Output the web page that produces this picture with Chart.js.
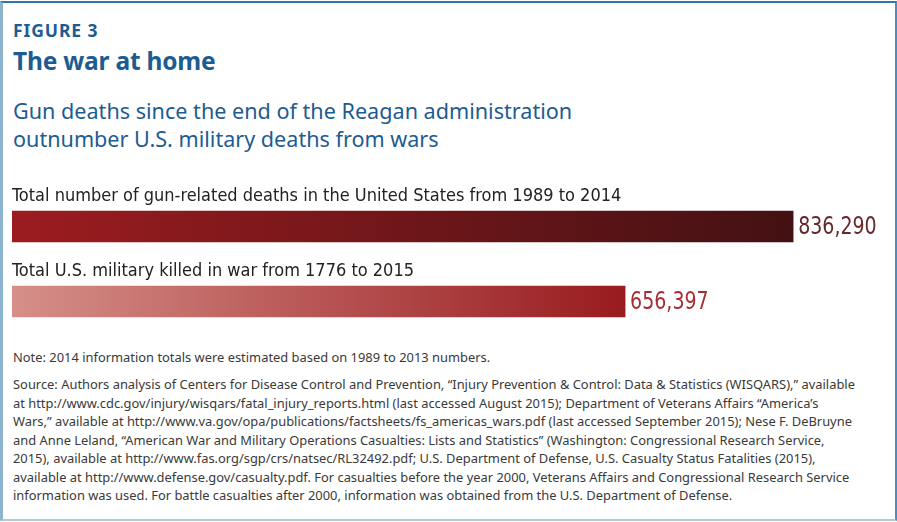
<!DOCTYPE html>
<html>
<head>
<meta charset="utf-8">
<script src="https://cdn.jsdelivr.net/npm/chart.js@4/dist/chart.umd.min.js"></script>
<style>
  html, body { margin: 0; padding: 0; background: #fff; }
  #frame {
    position: absolute; left: 0; top: 1px; width: 892px; height: 516px;
    border-left: 3px solid #8db4cf; border-top: 2px solid #3474aa;
    border-right: 2px solid #4b8dc0; border-bottom: 2px solid #afc9dc;
    font-family: "Noto Sans", "Open Sans", sans-serif;
  }
  .fig { position: absolute; left: 10px; top: 15px; font-size: 17.5px; font-weight: bold; color: #1d5c91; letter-spacing: 0.9px; }
  .title { position: absolute; left: 10px; top: 41px; font-size: 24.5px; font-weight: bold; color: #1d5c91; letter-spacing: -0.2px; }
  .sub { position: absolute; left: 10px; top: 94px; font-size: 21.6px; line-height: 28px; color: #1d5c91; }
  .note { position: absolute; left: 10px; top: 345px; font-size: 12.9px; color: #3a3a3a; width: 880px; }
  .src { position: absolute; left: 10px; top: 372px; font-size: 12.9px; line-height: 18.5px; color: #3a3a3a; width: 880px; }
  #wrap { position: absolute; left: 0; top: 170px; width: 897px; height: 170px; }
</style>
</head>
<body>
<div id="frame">
  <div class="fig">FIGURE 3</div>
  <div class="title">The war at home</div>
  <div class="sub">Gun deaths since the end of the Reagan administration<br>outnumber U.S. military deaths from wars</div>
  <div class="note">Note: 2014 information totals were estimated based on 1989 to 2013 numbers.</div>
  <div class="src">Source: Authors analysis of Centers for Disease Control and Prevention, “Injury Prevention &amp; Control: Data &amp; Statistics (WISQARS),” available<br>at http://www.cdc.gov/injury/wisqars/fatal_injury_reports.html (last accessed August 2015); Department of Veterans Affairs “America’s<br>Wars,” available at http://www.va.gov/opa/publications/factsheets/fs_americas_wars.pdf (last accessed September 2015); Nese F. DeBruyne<br>and Anne Leland, “American War and Military Operations Casualties: Lists and Statistics” (Washington: Congressional Research Service,<br>2015), available at http://www.fas.org/sgp/crs/natsec/RL32492.pdf; U.S. Department of Defense, U.S. Casualty Status Fatalities (2015),<br>available at http://www.defense.gov/casualty.pdf. For casualties before the year 2000, Veterans Affairs and Congressional Research Service<br>information was used. For battle casualties after 2000, information was obtained from the U.S. Department of Defense.</div>
</div>
<div id="wrap"><canvas id="bars"></canvas></div>
<script>
const categories = [
  "Total number of gun-related deaths in the United States from 1989 to 2014",
  "Total U.S. military killed in war from 1776 to 2015",
];
const deaths = [836290, 656397];
const gradStart = ["#9c1c20", "#d68f89"];
const gradEnd = ["#431113", "#981b1f"];
const labelColors = ["#66292c", "#a52f35"];

const condensed = '"DejaVu Sans Condensed", "DejaVu Sans", sans-serif';

// category text above each bar, value at the end of it
const barText = {
  id: "barText",
  afterDatasetsDraw(chart) {
    const ctx = chart.ctx;
    const meta = chart.getDatasetMeta(0);
    meta.data.forEach((bar, i) => {
      const top = bar.y - bar.height / 2;
      ctx.save();
      ctx.fillStyle = "#222";
      ctx.font = "18px " + condensed;
      ctx.textBaseline = "alphabetic";
      ctx.fillText(chart.data.labels[i], chart.chartArea.left, top - 10);
      ctx.restore();

      ctx.save();
      ctx.fillStyle = labelColors[i];
      ctx.font = "24px " + condensed;
      ctx.textBaseline = "middle";
      ctx.translate(bar.x + 5, bar.y + 1);
      ctx.scale(0.88, 1);
      ctx.fillText(deaths[i].toLocaleString("en-US"), 0, 0);
      ctx.restore();
    });
  },
};

new Chart(document.getElementById("bars"), {
  type: "bar",
  data: {
    labels: categories,
    datasets: [
      {
        data: deaths,
        barThickness: 31,
        backgroundColor: (c) => {
          const { chart, dataIndex } = c;
          if (!chart.chartArea) return gradEnd[dataIndex];
          const x = chart.scales.x;
          const x0 = x.getPixelForValue(0);
          const x1 = x.getPixelForValue(deaths[dataIndex]);
          const g = chart.ctx.createLinearGradient(x0, 0, x1, 0);
          g.addColorStop(0, gradStart[dataIndex]);
          g.addColorStop(1, gradEnd[dataIndex]);
          return g;
        },
      },
    ],
  },
  options: {
    indexAxis: "y",
    responsive: true,
    maintainAspectRatio: false,
    animation: false,
    layout: { padding: { left: 12, right: 7, top: 19, bottom: 1 } },
    scales: {
      x: { display: false, min: 0, max: 940000 },
      y: { display: false },
    },
    plugins: {
      legend: { display: false },
      tooltip: { enabled: false },
    },
  },
  plugins: [barText],
});
</script>
</body>
</html>
